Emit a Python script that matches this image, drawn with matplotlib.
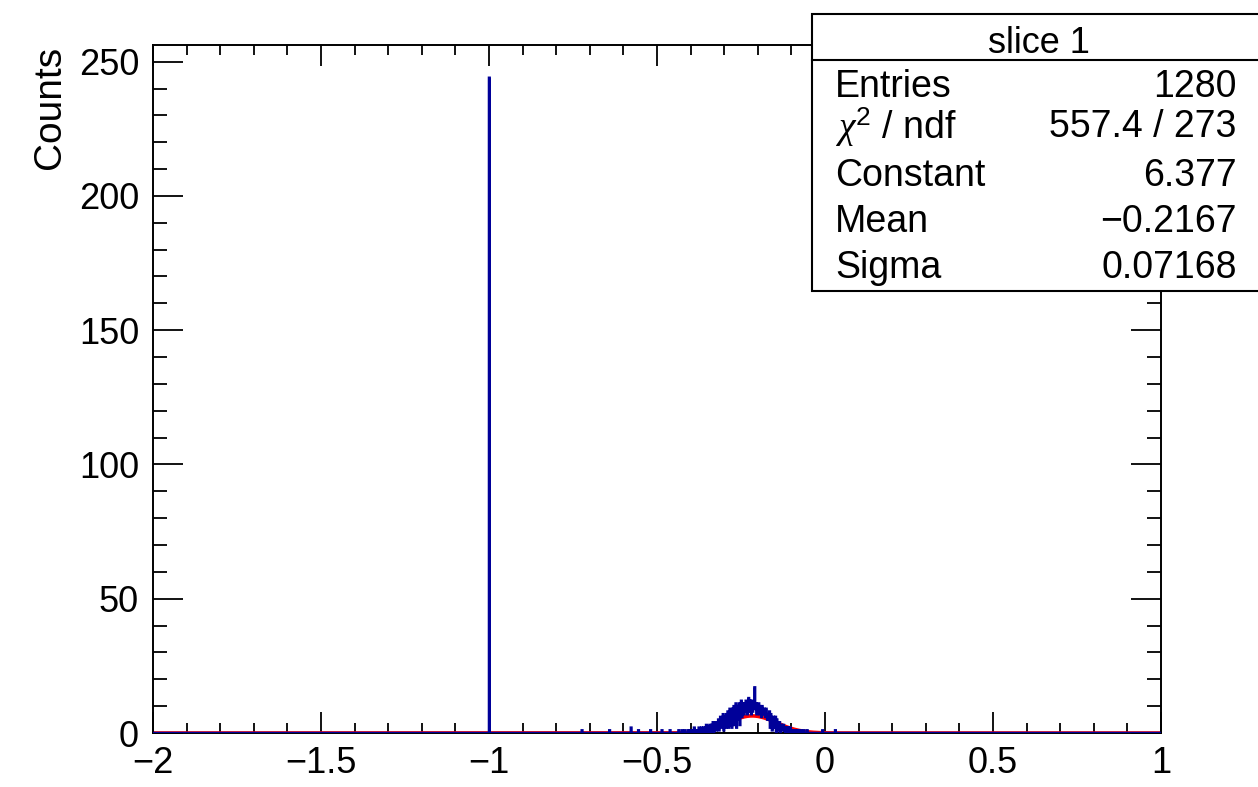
#!/usr/bin/env python

import numpy as np
import matplotlib
matplotlib.use("Agg")
import matplotlib.pyplot as plt
from matplotlib.ticker import MultipleLocator, FuncFormatter
from matplotlib.patches import Rectangle

plt.rcParams['font.family'] = ['Liberation Sans', 'DejaVu Sans']

# histogram binning
x_lo = -2.0
x_hi = 1.0
bin_w = 0.002

# the big spike at -1 (default / failed value)
spike_x = -1.0
spike_count = 244

# peak region, bins starting at peak_lo, one value per bin
peak_lo = -0.44
peak_counts = [
	0, 0, 1, 0, 0, 0, 0, 1, 0, 0, 0, 1, 0, 0, 0, 0, 1, 0, 1, 0,
	1, 0, 1, 1, 0, 2, 0, 1, 0, 1, 1, 0, 2, 1, 0, 1, 2, 1, 0, 2,
	2, 0, 2, 3, 1, 0, 2, 1, 3, 0, 2, 3, 1, 4, 0, 3, 2, 4, 1, 2,
	3, 5, 1, 3, 6, 2, 5, 3, 7, 1, 5, 6, 2, 7, 3, 8, 2, 5, 9, 3,
	7, 2, 9, 4, 10, 3, 9, 11, 2, 10, 5, 7, 11, 3, 8, 12, 6, 11, 10, 7,
	11, 8, 12, 9, 7, 10, 13, 8, 12, 11, 7, 12, 8, 11, 9, 17, 9, 11, 7, 10,
	9, 11, 7, 10, 8, 6, 10, 8, 7, 9, 7, 6, 9, 6, 5, 7, 5, 8, 2, 7,
	5, 1, 4, 6, 2, 3, 6, 0, 5, 3, 1, 2, 4, 0, 2, 3, 1, 2, 3, 1,
	2, 0, 1, 2, 0, 2, 0, 1, 2, 0, 0, 1, 1, 0, 1, 0, 1, 0, 0, 1,
	0, 1, 0, 0, 1, 0, 0, 0, 1, 0, 0, 0, 0, 1, 0, 0, 0, 0, 0, 0,
]

# isolated single bins outside the peak
stray_x = [-0.724, -0.642, -0.578, -0.556, -0.520, -0.486, -0.462, -0.008, 0.030]
stray_counts = [1, 1, 2, 1, 1, 1, 1, 1, 1]

# gaussian fit result (from stat box)
fit_const = 6.377
fit_mean = -0.2167
fit_sigma = 0.07168

stat_names = ["Entries", "$\\chi^{2}$ / ndf", "Constant", "Mean", "Sigma"]
stat_values = ["1280", "557.4 / 273", "6.377", "\u22120.2167", "0.07168"]

# build the full histogram
edges = np.round(np.arange(x_lo, x_hi + bin_w / 2, bin_w), 6)
counts = np.zeros(len(edges) - 1)
def fill(x, n):
	i = int(np.floor((x - x_lo) / bin_w + 1e-9))
	counts[i] += n
fill(spike_x, spike_count)
for k, n in enumerate(peak_counts):
	fill(peak_lo + k * bin_w + bin_w / 2, n)
for x, n in zip(stray_x, stray_counts):
	fill(x, n)

plt.rcParams['mathtext.fontset'] = 'custom'
plt.rcParams['mathtext.rm'] = 'Liberation Sans'
plt.rcParams['mathtext.it'] = 'Liberation Serif:italic'

fig = plt.figure(figsize=(12.58, 7.87), dpi=100)
ax = fig.add_axes([0.1216, 0.0686, 0.8013, 0.8742])

xf = np.linspace(x_lo, x_hi, 3001)
ax.plot(xf, fit_const * np.exp(-0.5 * ((xf - fit_mean) / fit_sigma) ** 2),
	color='#ff0000', lw=2.6, zorder=2)
ax.stairs(counts, edges, color='#000099', lw=1.8, zorder=3)

ax.set_xlim(x_lo, x_hi)
ax.set_ylim(0, spike_count * 1.05)

ax.xaxis.set_major_locator(MultipleLocator(0.5))
ax.xaxis.set_minor_locator(MultipleLocator(0.1))
ax.yaxis.set_major_locator(MultipleLocator(50))
ax.yaxis.set_minor_locator(MultipleLocator(10))
ax.tick_params(axis='both', which='both', direction='in', top=True, right=True,
	labelsize=26, width=1.3, color='black')
ax.tick_params(axis='x', which='major', length=15, pad=9)
ax.tick_params(axis='x', which='minor', length=7.5)
ax.tick_params(axis='y', which='major', length=21.5, pad=10)
ax.tick_params(axis='y', which='minor', length=10)

def fmt(v, pos):
	s = "%g" % v
	return s.replace("-", "\u2212")
ax.xaxis.set_major_formatter(FuncFormatter(fmt))
ax.yaxis.set_major_formatter(FuncFormatter(fmt))

for s in ax.spines.values():
	s.set_linewidth(1.4)

fig.text(0.040, 0.942, "Counts", rotation=90, ha='center', va='top', fontsize=28)

# stat box
bx0, by0, by1, bsep = 0.6455, 0.6302, 0.9822, 0.9238
fig.patches.append(Rectangle((bx0, by0), 0.40, by1 - by0, transform=fig.transFigure,
	facecolor='white', edgecolor='black', lw=1.5, zorder=10))
fig.add_artist(plt.Line2D([bx0, 1.0], [bsep, bsep], transform=fig.transFigure,
	color='black', lw=1.5, zorder=11))
fig.text(0.8255, 0.945, "slice 1", ha='center', va='center', fontsize=26, zorder=12)
row_y = [0.889, 0.838, 0.777, 0.718, 0.659]
for name, val, y in zip(stat_names, stat_values, row_y):
	fig.text(0.664, y, name, ha='left', va='center', fontsize=27, zorder=12)
	fig.text(0.983, y, val, ha='right', va='center', fontsize=27, zorder=12)

fig.savefig("out.png", dpi=100)
